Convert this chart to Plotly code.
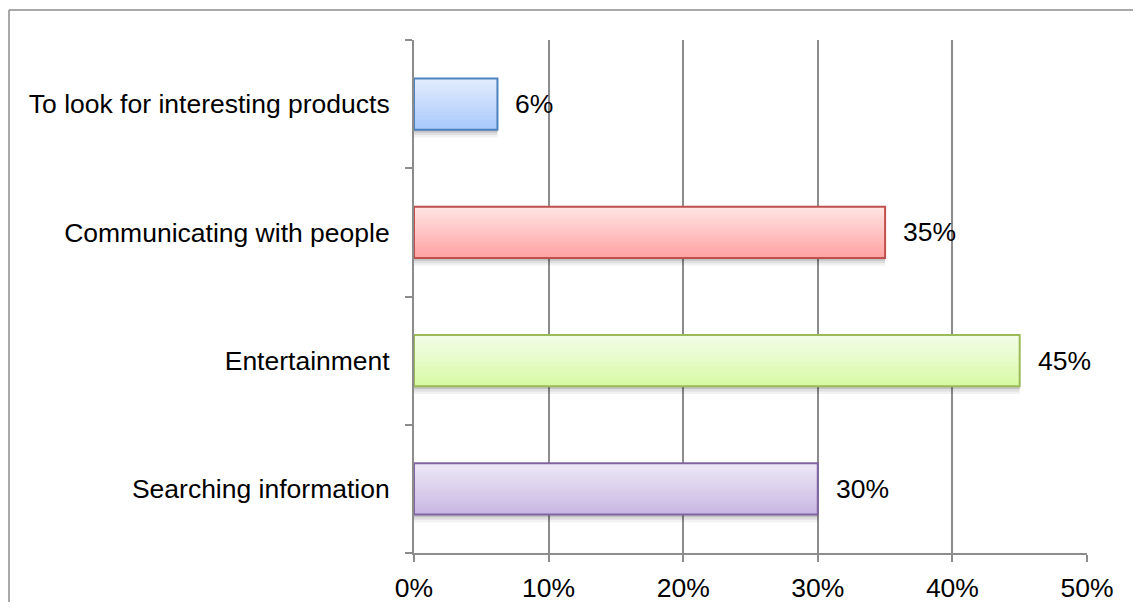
import plotly.graph_objects as go

categories = ["Searching information", "Entertainment", "Communicating with people",
              "To look for interesting products"]
values = [30, 45, 35, 6.2]
labels = ["30%", "45%", "35%", "6%"]
top_colors = ["#EDE8F6", "#F3FDE8", "#FFE3E3", "#E3ECFD"]
bottom_colors = ["#C9B7E3", "#D7F9A5", "#FFA3A3", "#A9C9FB"]
line_colors = ["#8064A2", "#9BBB59", "#C0504D", "#4F81BD"]
x_ticks = [0, 10, 20, 30, 40, 50]
x_tick_labels = ["0%", "10%", "20%", "30%", "40%", "50%"]

FONT = "Liberation Sans, Arial, sans-serif"
FS = 26.5
BAR_W = 0.4
N_STRIPES = 24


def hex_to_rgb(h):
    h = h.lstrip("#")
    return tuple(int(h[i:i + 2], 16) for i in (0, 2, 4))


def mix(c1, c2, t):
    a, b = hex_to_rgb(c1), hex_to_rgb(c2)
    return "rgb(%d,%d,%d)" % tuple(round(a[k] + (b[k] - a[k]) * t) for k in range(3))


fig = go.Figure()

# soft drop shadow below each bar
for dy, alpha in [(0.06, 0.05), (0.04, 0.08), (0.022, 0.12)]:
    fig.add_trace(go.Bar(
        y=categories, x=values, orientation="h",
        width=BAR_W, offset=-BAR_W / 2 - dy,
        marker=dict(color="rgba(0,0,0,%g)" % alpha, line=dict(width=0)),
        hoverinfo="skip",
    ))

# vertical gradient: nested bars, each covering from its top edge to the bar bottom
sw = BAR_W / N_STRIPES
for i in range(N_STRIPES):
    t = i / (N_STRIPES - 1)
    fig.add_trace(go.Bar(
        y=categories, x=values, orientation="h",
        width=BAR_W - i * sw, offset=-BAR_W / 2,
        marker=dict(color=[mix(a, b, t) for a, b in zip(top_colors, bottom_colors)],
                    line=dict(width=0)),
        hoverinfo="skip",
    ))
# outline
fig.add_trace(go.Bar(
    y=categories, x=values, orientation="h", width=BAR_W, offset=-BAR_W / 2,
    marker=dict(color="rgba(0,0,0,0)", line=dict(color=line_colors, width=2)),
    hoverinfo="skip",
))

for c, v, t in zip(categories, values, labels):
    fig.add_annotation(x=v, y=c, text=t, showarrow=False, xanchor="left",
                       xshift=16, font=dict(family=FONT, size=FS, color="#000"))

# page body has an 8px margin; figure is sized to fit inside the window
W, H = 1125, 594
L, T = 406, 32
R = W - (1087 - 8)
B = H - (553 - 8)
pw, ph = W - L - R, H - T - B
border = dict(color="#8C8C8C", width=1.5)
# outer chart frame (top and left edges are visible in the reference)
fig.add_shape(type="line", xref="paper", yref="paper",
              x0=(1 - L) / pw, x1=(W - L) / pw,
              y0=(H - B - 2) / ph, y1=(H - B - 2) / ph, line=border, layer="below")
fig.add_shape(type="line", xref="paper", yref="paper",
              x0=(1 - L) / pw, x1=(1 - L) / pw,
              y0=-B / ph, y1=(H - B - 2) / ph, line=border, layer="below")

fig.update_layout(
    width=W, height=H,
    margin=dict(l=L, r=R, t=T, b=B, pad=0, autoexpand=False),
    paper_bgcolor="white", plot_bgcolor="white",
    showlegend=False, barmode="overlay",
    font=dict(family=FONT, size=FS, color="#000"),
    xaxis=dict(range=[0, 50], tickvals=x_ticks, ticktext=x_tick_labels,
               showgrid=True, gridcolor="#8C8C8C", gridwidth=2,
               showline=True, linecolor="#8C8C8C", linewidth=2,
               ticks="outside", ticklen=7, tickcolor="#8C8C8C", tickwidth=2,
               ticklabelstandoff=3,
               zeroline=False, fixedrange=True, automargin=False),
    yaxis=dict(type="category", categoryorder="array", categoryarray=categories,
               range=[-0.5, 3.5],
               showgrid=False, showline=True, linecolor="#8C8C8C", linewidth=2,
               ticks="outside", ticklen=7, tickcolor="#8C8C8C", tickwidth=2,
               tickson="boundaries", ticklabelstandoff=17, zeroline=False,
               fixedrange=True, automargin=False),
)

fig.write_html("out.html")
